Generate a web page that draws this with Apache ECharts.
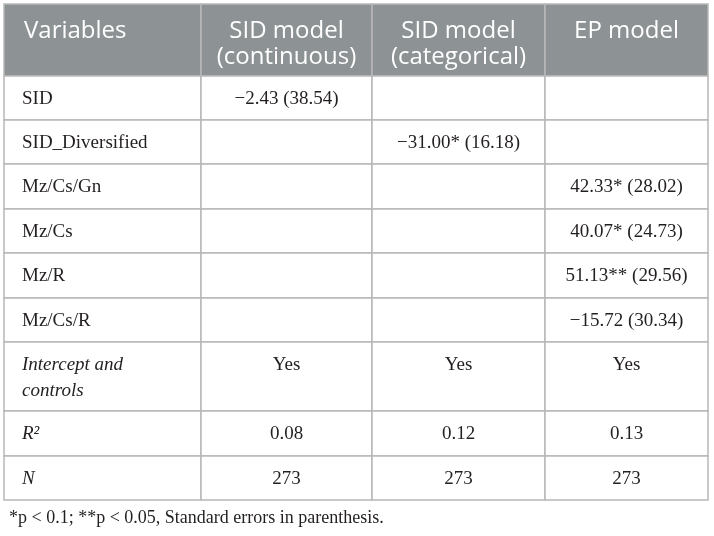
<!DOCTYPE html>
<html>
<head>
<meta charset="utf-8">
<script src="https://cdn.jsdelivr.net/npm/echarts@6/dist/echarts.min.js"></script>
<style>
    html, body { margin: 0; padding: 0; background: #fff; }
    #chart { width: 714px; height: 536px; }
</style>
</head>
<body>
<div id="chart"></div>
<script>
(function () {
    // table content
    const headers = ['Variables', 'SID model\n(continuous)', 'SID model\n(categorical)', 'EP model'];
    const rowLabels = ['SID', 'SID_Diversified', 'Mz/Cs/Gn', 'Mz/Cs', 'Mz/R', 'Mz/Cs/R', 'Intercept and\ncontrols', 'R²', 'N'];
    const sidContinuous = ['−2.43 (38.54)', '', '', '', '', '', 'Yes', '0.08', '273'];
    const sidCategorical = ['', '−31.00* (16.18)', '', '', '', '', 'Yes', '0.12', '273'];
    const epModel = ['', '', '42.33* (28.02)', '40.07* (24.73)', '51.13** (29.56)', '−15.72 (30.34)', 'Yes', '0.13', '273'];
    const italicLabels = ['Intercept and\ncontrols', 'R²', 'N'];
    const note = '*p < 0.1; **p < 0.05, Standard errors in parenthesis.';

    // layout (column widths / row heights in px)
    const colWidths = [197, 171, 173, 163];
    const rowHeights = [72, 44, 44, 45, 44, 45, 44, 69, 45, 44];

    const colEdges = [0];
    colWidths.forEach((w, i) => colEdges.push(colEdges[i] + w));
    const rowEdges = [0];
    rowHeights.forEach((h, i) => rowEdges.push(rowEdges[i] + h));
    const totalW = colEdges[colEdges.length - 1];
    const totalH = rowEdges[rowEdges.length - 1];

    // cells: [col, row]
    const cells = [];
    const texts = [];
    headers.forEach((h, c) => { cells.push([c, 0]); texts.push(h); });
    const columns = [rowLabels, sidContinuous, sidCategorical, epModel];
    rowLabels.forEach((_, r) => {
        columns.forEach((col, c) => {
            cells.push([c, r + 1]);
            texts.push(col[r]);
        });
    });

    const headBg = '#8d9395';
    const lineColor = '#b8b8b8';
    const serif = '"Liberation Serif", "DejaVu Serif", serif';
    const sans = '"Open Sans", "Noto Sans", sans-serif';

    const myChart = echarts.init(document.getElementById('chart'));
    myChart.setOption({
        animation: false,
        title: {
            text: note,
            left: 4,
            top: 504,
            textStyle: {
                fontFamily: serif,
                fontSize: 18,
                fontWeight: 'normal',
                color: '#231f20'
            }
        },
        grid: { left: 4, top: 4, width: totalW, height: totalH },
        xAxis: { type: 'value', min: 0, max: totalW, show: false },
        yAxis: { type: 'value', min: 0, max: totalH, inverse: true, show: false },
        series: [{
            type: 'custom',
            coordinateSystem: 'cartesian2d',
            data: cells,
            renderItem: function (params, api) {
                const c = api.value(0);
                const r = api.value(1);
                const p0 = api.coord([colEdges[c], rowEdges[r]]);
                const p1 = api.coord([colEdges[c + 1], rowEdges[r + 1]]);
                const txt = texts[params.dataIndex];
                const isHead = r === 0;
                const italic = c === 0 && italicLabels.indexOf(txt) >= 0;
                const left = c === 0;
                return {
                    type: 'group',
                    children: [{
                        type: 'rect',
                        shape: { x: p0[0], y: p0[1], width: p1[0] - p0[0], height: p1[1] - p0[1] },
                        style: {
                            fill: isHead ? headBg : '#fff',
                            stroke: lineColor,
                            lineWidth: 1.5
                        }
                    }, {
                        type: 'text',
                        style: {
                            text: txt,
                            x: left ? p0[0] + (isHead ? 20 : 18) : (p0[0] + p1[0]) / 2,
                            y: p0[1] + (isHead ? 14 : 10),
                            align: left ? 'left' : 'center',
                            verticalAlign: 'top',
                            fill: isHead ? '#fff' : '#231f20',
                            fontFamily: isHead ? sans : serif,
                            fontSize: isHead ? 24 : 19,
                            fontStyle: italic ? 'italic' : 'normal',
                            lineHeight: 26
                        }
                    }]
                };
            }
        }]
    });
})();
</script>
</body>
</html>
